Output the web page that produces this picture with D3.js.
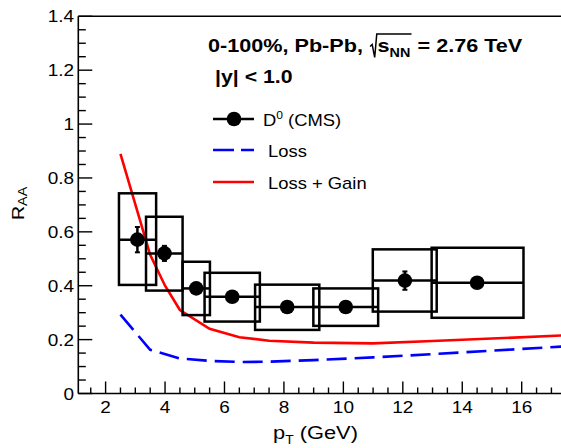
<!DOCTYPE html>
<html><head><meta charset="utf-8">
<script src="https://cdn.jsdelivr.net/npm/d3@7"></script>
<style>html,body{margin:0;padding:0;background:#fff;overflow:hidden} text{white-space:pre}</style>
</head><body>
<svg id="c" width="561" height="448" xmlns="http://www.w3.org/2000/svg"></svg>
<script>
// ---------------- data ----------------
const xTickValues = [2, 4, 6, 8, 10, 12, 14, 16];
const xTickLabels = ["2", "4", "6", "8", "10", "12", "14", "16"];
const yTickValues = [0, 0.2, 0.4, 0.6, 0.8, 1, 1.2, 1.4];
const yTickLabels = ["0", "0.2", "0.4", "0.6", "0.8", "1", "1.2", "1.4"];

// CMS D0 points
const ptCenter = [3.07, 3.98, 5.05, 6.26, 8.11, 10.08, 12.07, 14.5];
const boxLo    = [2.45, 3.36, 4.59, 5.33, 7.03, 8.99, 10.99, 12.97];
const boxHi    = [3.70, 4.59, 5.51, 7.19, 9.19, 11.17, 13.14, 16.06];
const raa      = [0.571, 0.520, 0.390, 0.359, 0.321, 0.321, 0.419, 0.411];
const statErr  = [0.047, 0.028, 0.012, 0.012, 0.010, 0.010, 0.034, 0.012];
const sysLo    = [0.403, 0.382, 0.291, 0.267, 0.236, 0.251, 0.304, 0.281];
const sysHi    = [0.743, 0.656, 0.489, 0.448, 0.404, 0.390, 0.535, 0.541];

// model curves
const lossPt   = [2.5, 3.5, 4.5, 5.5, 6.5, 7.5, 9, 11, 13, 15, 17.5];
const lossVal  = [0.293, 0.162, 0.130, 0.121, 0.117, 0.118, 0.124, 0.134, 0.146, 0.159, 0.175];
const gainPt   = [2.5, 3.5, 4.0, 4.5, 5.5, 6.5, 7.5, 9, 11, 13, 15, 17.5];
const gainVal  = [0.889, 0.515, 0.400, 0.310, 0.240, 0.209, 0.196, 0.189, 0.186, 0.195, 0.204, 0.216];

const legendLabels = ["D", "Loss", "Loss + Gain"];

// ---------------- layout ----------------
const FONT = "'Liberation Sans', Arial, Helvetica, sans-serif";
const SX = 1.15;
const plotL = 78.3, plotT = 16.3, plotB = 393.5;
const W = 561;

const svg = d3.select("#c");
const x = d3.scaleLinear().domain([2, 16]).range([105.6, 521.7]);
const y = d3.scaleLinear().domain([0, 1.4]).range([plotB, plotT]);
const xMin = x.invert(plotL), xMax = x.invert(W + 30);

function stext(sel, px, py, s, size, anchor, weight) {
  return sel.append("text")
    .attr("transform", `translate(${px},${py}) scale(${SX},1)`)
    .attr("text-anchor", anchor || "start")
    .attr("font-family", FONT)
    .attr("font-size", size)
    .attr("font-weight", weight || "normal")
    .attr("fill", "#000")
    .text(s);
}

// clip for curves
svg.append("clipPath").attr("id", "clip").append("rect")
  .attr("x", plotL).attr("y", plotT).attr("width", W + 40 - plotL).attr("height", plotB - plotT);

// ---------------- model curves ----------------
const line = d3.line().x(d => x(d[0])).y(d => y(d[1]));
svg.append("path")
  .attr("clip-path", "url(#clip)")
  .attr("d", line(lossPt.map((p, i) => [p, lossVal[i]])))
  .attr("fill", "none").attr("stroke", "#0000ff").attr("stroke-width", 2.6)
  .attr("stroke-dasharray", "20,8");
svg.append("path")
  .attr("clip-path", "url(#clip)")
  .attr("d", line(gainPt.map((p, i) => [p, gainVal[i]])))
  .attr("fill", "none").attr("stroke", "#ff0000").attr("stroke-width", 2.6);

// ---------------- data ----------------
const gData = svg.append("g");
ptCenter.forEach((p, i) => {
  gData.append("rect")
    .attr("x", x(boxLo[i])).attr("y", y(sysHi[i]))
    .attr("width", x(boxHi[i]) - x(boxLo[i]))
    .attr("height", y(sysLo[i]) - y(sysHi[i]))
    .attr("fill", "none").attr("stroke", "#000").attr("stroke-width", 2.5);
});
ptCenter.forEach((p, i) => {
  gData.append("line")
    .attr("x1", x(boxLo[i])).attr("x2", x(boxHi[i]))
    .attr("y1", y(raa[i])).attr("y2", y(raa[i]))
    .attr("stroke", "#000").attr("stroke-width", 2.5);
  gData.append("line")
    .attr("x1", x(p)).attr("x2", x(p))
    .attr("y1", y(raa[i] - statErr[i])).attr("y2", y(raa[i] + statErr[i]))
    .attr("stroke", "#000").attr("stroke-width", 2.5);
  [raa[i] - statErr[i], raa[i] + statErr[i]].forEach(v => {
    gData.append("line")
      .attr("x1", x(p) - 2.5).attr("x2", x(p) + 2.5)
      .attr("y1", y(v)).attr("y2", y(v))
      .attr("stroke", "#000").attr("stroke-width", 2);
  });
  gData.append("circle").attr("cx", x(p)).attr("cy", y(raa[i])).attr("r", 7.3).attr("fill", "#000");
});

// ---------------- axes ----------------
const gAx = svg.append("g").attr("stroke", "#000");
gAx.append("line").attr("x1", plotL).attr("x2", plotL).attr("y1", plotT).attr("y2", plotB).attr("stroke-width", 1.6);
gAx.append("line").attr("x1", plotL).attr("x2", W).attr("y1", plotB).attr("y2", plotB).attr("stroke-width", 1.6);
gAx.append("line").attr("x1", plotL).attr("x2", W).attr("y1", plotT).attr("y2", plotT).attr("stroke-width", 1.6);

// y ticks
d3.range(0, 1.4001, 0.05).forEach(v => {
  const major = Math.abs(v / 0.2 - Math.round(v / 0.2)) < 1e-6;
  gAx.append("line").attr("x1", plotL).attr("x2", plotL + (major ? 14 : 7.5))
    .attr("y1", y(v)).attr("y2", y(v)).attr("stroke-width", 1.4);
});
yTickValues.forEach((v, i) => {
  stext(svg, 74, y(v) + 6, yTickLabels[i], 16.5, "end");
});
// x ticks
d3.range(1.5, 17.6, 0.5).filter(v => v > xMin && v < xMax).forEach(v => {
  const major = Math.abs(v / 2 - Math.round(v / 2)) < 1e-6;
  gAx.append("line").attr("x1", x(v)).attr("x2", x(v))
    .attr("y1", plotB).attr("y2", plotB - (major ? 12 : 6)).attr("stroke-width", 1.4);
});
xTickValues.forEach((v, i) => {
  stext(svg, x(v), 413, xTickLabels[i], 16.5, "middle");
});

// axis titles
const xt = stext(svg, 273, 439, "", 19, "start");
xt.append("tspan").text("p");
xt.append("tspan").attr("font-size", 12).attr("dy", 5).text("T");
xt.append("tspan").attr("dy", -5).text("\u00a0(GeV)");

const yt = svg.append("text")
  .attr("transform", `translate(23.5,220) rotate(-90) scale(${SX},1)`)
  .attr("font-family", FONT).attr("font-size", 17).attr("fill", "#000");
yt.append("tspan").text("R");
yt.append("tspan").attr("font-size", 12.5).attr("dy", 3).text("AA");

// ---------------- header ----------------
const hg = svg.append("g").attr("transform", `translate(208,51.5) scale(${SX},1)`)
  .attr("font-family", FONT).attr("font-weight", "bold").attr("fill", "#000");
const h1 = hg.append("text").attr("font-size", 18.8).text("0-100%, Pb-Pb,\u00a0");
const w1 = h1.node().getComputedTextLength();
const r0 = w1 + 1;
const sT = hg.append("text").attr("x", r0 + 6.5).attr("font-size", 18.8);
sT.append("tspan").text("s");
sT.append("tspan").attr("font-size", 12.5).attr("dy", 5).text("NN");
const w2 = sT.node().getComputedTextLength();
hg.append("path")
  .attr("d", `M${r0},-5 L${r0 + 1.8},-7 L${r0 + 4},6 L${r0 + 5.8},-17.5 L${r0 + 6.5 + w2 + 1},-17.5`)
  .attr("fill", "none").attr("stroke", "#000").attr("stroke-width", 1.3);
hg.append("text").attr("x", r0 + 6.5 + w2 + 1).attr("font-size", 18.8).text("\u00a0= 2.76 TeV");

stext(svg, 215, 82.5, "|y| < 1.0", 18.5, "start", "bold");

// ---------------- legend ----------------
const lg = svg.append("g");
lg.append("line").attr("x1", 213).attr("x2", 254).attr("y1", 119).attr("y2", 119).attr("stroke", "#000").attr("stroke-width", 2.5);
lg.append("circle").attr("cx", 234).attr("cy", 119).attr("r", 7.3).attr("fill", "#000");
const l1 = stext(lg, 263, 126, "", 16, "start");
l1.append("tspan").text(legendLabels[0]);
l1.append("tspan").attr("font-size", 10.5).attr("dy", -7).text("0");
l1.append("tspan").attr("dy", 7).text("\u00a0(CMS)");

lg.append("line").attr("x1", 213).attr("x2", 254).attr("y1", 150).attr("y2", 150)
  .attr("stroke", "#0000ff").attr("stroke-width", 2.6).attr("stroke-dasharray", "21,7");
stext(lg, 268, 156.5, legendLabels[1], 16, "start");

lg.append("line").attr("x1", 213).attr("x2", 254).attr("y1", 182).attr("y2", 182)
  .attr("stroke", "#ff0000").attr("stroke-width", 2.6);
stext(lg, 268, 188.5, legendLabels[2], 16, "start");
</script>
</body></html>
